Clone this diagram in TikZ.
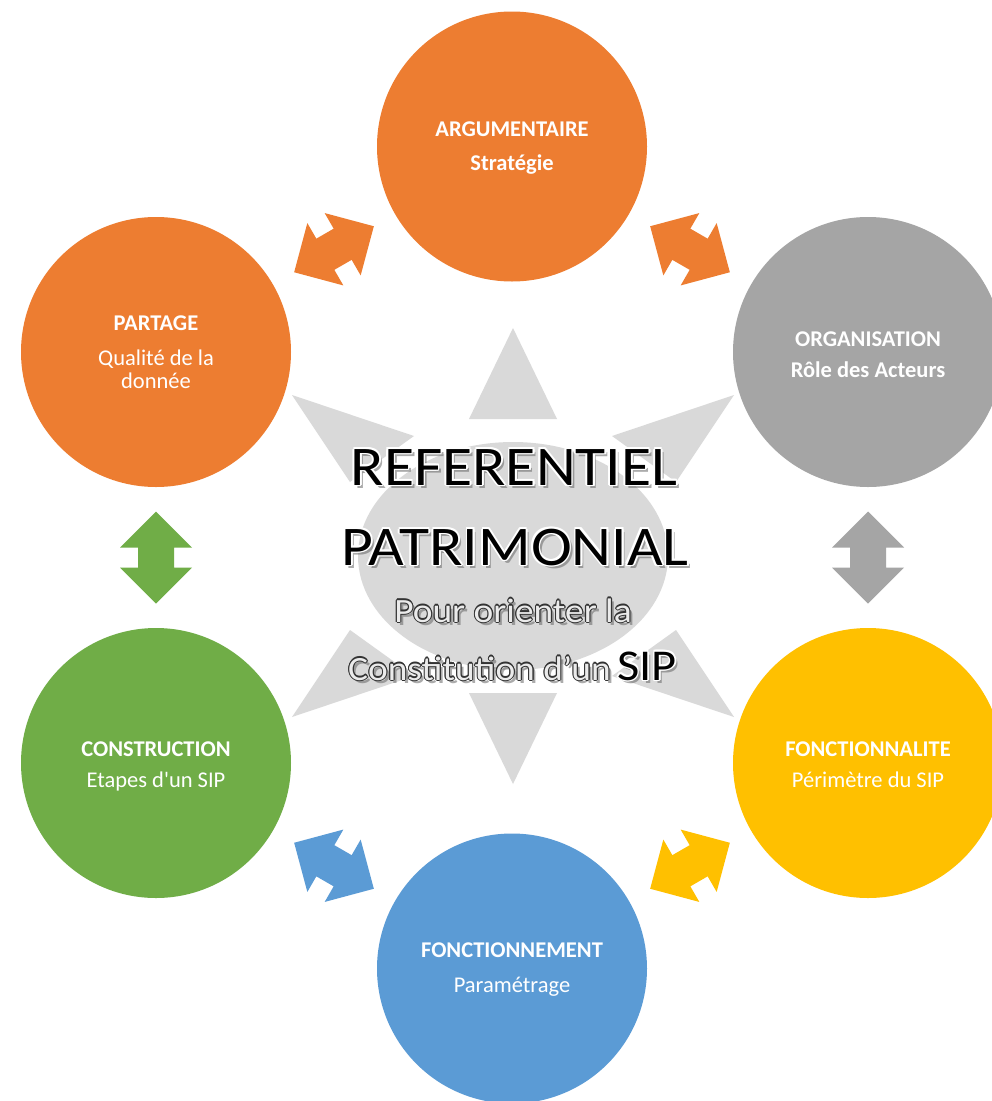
\documentclass[tikz,border=0pt]{standalone}
\usepackage{fontspec}
\setmainfont{Carlito}[Ligatures=TeXOff]
\newfontfamily\titlefont[FakeStretch=1.1]{Carlito}
\usetikzlibrary{calc}
\definecolor{cOrange}{HTML}{ED7D31}
\definecolor{cGray}{HTML}{A5A5A5}
\definecolor{cYellow}{HTML}{FFC000}
\definecolor{cBlue}{HTML}{5B9BD5}
\definecolor{cGreen}{HTML}{70AD47}
\definecolor{cSun}{HTML}{D9D9D9}
% name, position, style, fill, outline, outline width, text
\newcommand\fxtext[7]{%
  \node[#3, text=black!60, opacity=0.55, inner sep=0pt] (#1-sh) at ($#2+(3,3)$) {#7};
  \foreach \a in {0,45,...,315} {\node[#3, text=#5, inner sep=0pt] (#1-o\a) at ($#2+(\a:#6)$) {#7};}
  \node[#3, text=#4, inner sep=0pt] (#1) at #2 {#7};
}
\begin{document}
\begin{tikzpicture}[x=1pt,y=-1pt,
  circ/.style={circle, minimum size=270pt, inner sep=0pt, draw=none},
  ctitle/.style={text=white, font=\fontsize{22.5}{26}\selectfont\bfseries, anchor=base, inner sep=0pt},
  csub/.style={text=white, font=\fontsize{22.5}{26}\selectfont, anchor=base, inner sep=0pt},
  big/.style={font=\titlefont\fontsize{56}{60}\selectfont, anchor=base},
  mid/.style={font=\titlefont\fontsize{34}{38}\selectfont, anchor=base},
  midw/.style={font=\titlefont\fontsize{34}{38}\selectfont, anchor=base west},
  sip/.style={font=\titlefont\fontsize{44}{48}\selectfont, anchor=base west},
  dblarrow/.pic={\path[pic actions] (46,0) -- (10,36) -- (10,18) -- (-10,18) -- (-10,36) -- (-46,0) -- (-10,-36) -- (-10,-18) -- (10,-18) -- (10,-36) -- cycle;}
]
\path[use as bounding box] (0,0) rectangle (992,1101);
\clip (0,0) rectangle (992,1101);
\fill[white] (0,0) rectangle (992,1101);

% central sun
\fill[cSun] (513,556) ellipse [x radius=155pt, y radius=114pt];
\fill[cSun] (513,328) -- (557,419) -- (469,419) -- cycle;
\fill[cSun] (513,784) -- (557,693) -- (469,693) -- cycle;
\fill[cSun] (292,395) -- (414,436) -- (350,482) -- cycle;
\fill[cSun] (734,395) -- (612,436) -- (676,482) -- cycle;
\fill[cSun] (292,717) -- (414,676) -- (350,630) -- cycle;
\fill[cSun] (734,717) -- (612,676) -- (676,630) -- cycle;

% circles
\node[circ, fill=cOrange] (arg) at (512,146.5) {};
\node[circ, fill=cOrange] (par) at (156,352) {};
\node[circ, fill=cGray]   (org) at (868,352) {};
\node[circ, fill=cGreen]  (con) at (156,763) {};
\node[circ, fill=cYellow] (fct) at (868,763) {};
\node[circ, fill=cBlue]   (fnm) at (512,968.5) {};

% circle texts
\node[ctitle] (arg-t) at ($(arg)+(0,-10.5)$) {ARGUMENTAIRE};
\node[ctitle] (arg-s) at ($(arg)+(0,23.5)$) {Stratégie};
\node[ctitle] (par-t) at ($(par)+(0,-22)$) {PARTAGE};
\node[csub]   (par-s) at ($(par)+(0,13)$) {Qualité de la};
\node[csub]   (par-u) at ($(par)+(0,36)$) {donnée};
\node[ctitle] (org-t) at ($(org)+(0,-6)$) {ORGANISATION};
\node[ctitle] (org-s) at ($(org)+(0,25)$) {Rôle des Acteurs};
\node[ctitle] (con-t) at ($(con)+(0,-7)$) {CONSTRUCTION};
\node[csub]   (con-s) at ($(con)+(0,24)$) {Etapes d'un SIP};
\node[ctitle] (fct-t) at ($(fct)+(0,-7)$) {FONCTIONNALITE};
\node[csub]   (fct-s) at ($(fct)+(0,24)$) {Périmètre du SIP};
\node[ctitle] (fnm-t) at ($(fnm)+(0,-11.5)$) {FONCTIONNEMENT};
\node[csub]   (fnm-s) at ($(fnm)+(0,23.5)$) {Paramétrage};

% double arrows
\pic[fill=cOrange, rotate=30]  at ($(arg)!0.5!(par)$) {dblarrow};
\pic[fill=cOrange, rotate=-30] at ($(arg)!0.5!(org)$) {dblarrow};
\pic[fill=cGray,   rotate=90]  at ($(org)!0.5!(fct)$) {dblarrow};
\pic[fill=cYellow, rotate=30]  at ($(fct)!0.5!(fnm)$) {dblarrow};
\pic[fill=cBlue,   rotate=-30] at ($(fnm)!0.5!(con)$) {dblarrow};
\pic[fill=cGreen,  rotate=90]  at ($(con)!0.5!(par)$) {dblarrow};

% central title
\fxtext{ref}{(514,485)}{big}{black}{white}{1.8}{REFERENTIEL}
\fxtext{pat}{(515,565)}{big}{black}{white}{1.8}{PATRIMONIAL}
\fxtext{pour}{(513,622)}{mid}{black!8}{black!80}{1.1}{Pour orienter la}
\fxtext{cons}{(348,680)}{midw}{black!8}{black!80}{1.1}{Constitution d’un}
\fxtext{sip}{(617,680)}{sip}{black}{white}{1.6}{SIP}
\end{tikzpicture}
\end{document}
